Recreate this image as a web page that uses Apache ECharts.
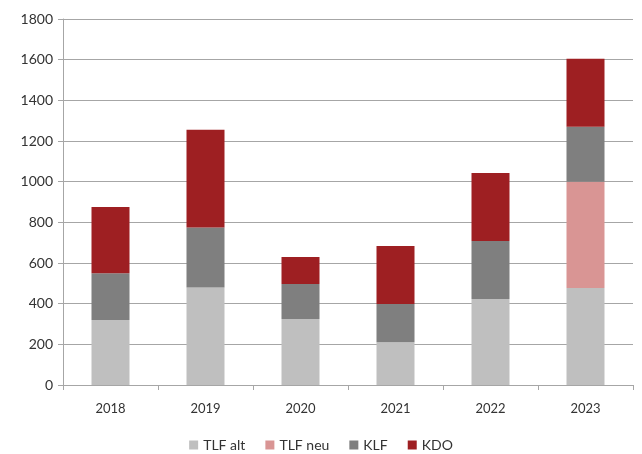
<!DOCTYPE html>
<html><head><meta charset="utf-8">
<script src="https://cdn.jsdelivr.net/npm/echarts@6/dist/echarts.min.js"></script>
<style>html,body{margin:0;padding:0;background:#fff}#c{width:642px;height:454px}</style>
</head><body><div id="c"></div>
<script>
const categories = ['2018','2019','2020','2021','2022','2023'];
const tlfAlt = [320, 480, 325, 210, 423, 477];
const tlfNeu = [0, 0, 0, 0, 0, 523];
const klf = [230, 295, 172, 188, 285, 270];
const kdo = [325, 480, 133, 285, 335, 334];
const yTicks = [0, 200, 400, 600, 800, 1000, 1200, 1400, 1600, 1800];

const font = 'Lato, "Open Sans", sans-serif';
const chart = echarts.init(document.getElementById('c'));
const mk = (name, data, color) => ({name, type:'bar', stack:'s', data, barWidth:'40%', itemStyle:{color}});
chart.setOption({
  animation:false,
  grid:{left:63, right:9, top:19, bottom:69},
  legend:{top:433, left:'center', itemWidth:9, itemHeight:9, itemGap:20, icon:'rect',
    textStyle:{fontFamily:font, fontSize:14, color:'#333'}},
  xAxis:{type:'category', data:categories,
    axisLine:{lineStyle:{color:'#a6a6a6'}},
    axisTick:{show:true, length:5, lineStyle:{color:'#a6a6a6'}},
    axisLabel:{fontFamily:font, fontSize:13, color:'#333', margin:17}},
  yAxis:{type:'value', min:yTicks[0], max:yTicks[yTicks.length-1], interval:200,
    axisLine:{show:true, lineStyle:{color:'#a6a6a6'}},
    axisTick:{show:true, length:5, lineStyle:{color:'#a6a6a6'}},
    splitLine:{lineStyle:{color:'#a6a6a6'}},
    axisLabel:{fontFamily:font, fontSize:14, color:'#333', margin:10, formatter:v => String(v)}},
  series:[
    mk('TLF alt', tlfAlt, '#bfbfbf'),
    mk('TLF neu', tlfNeu, '#d99594'),
    mk('KLF', klf, '#7f7f7f'),
    mk('KDO', kdo, '#9e1f22')
  ]
});
</script></body></html>
